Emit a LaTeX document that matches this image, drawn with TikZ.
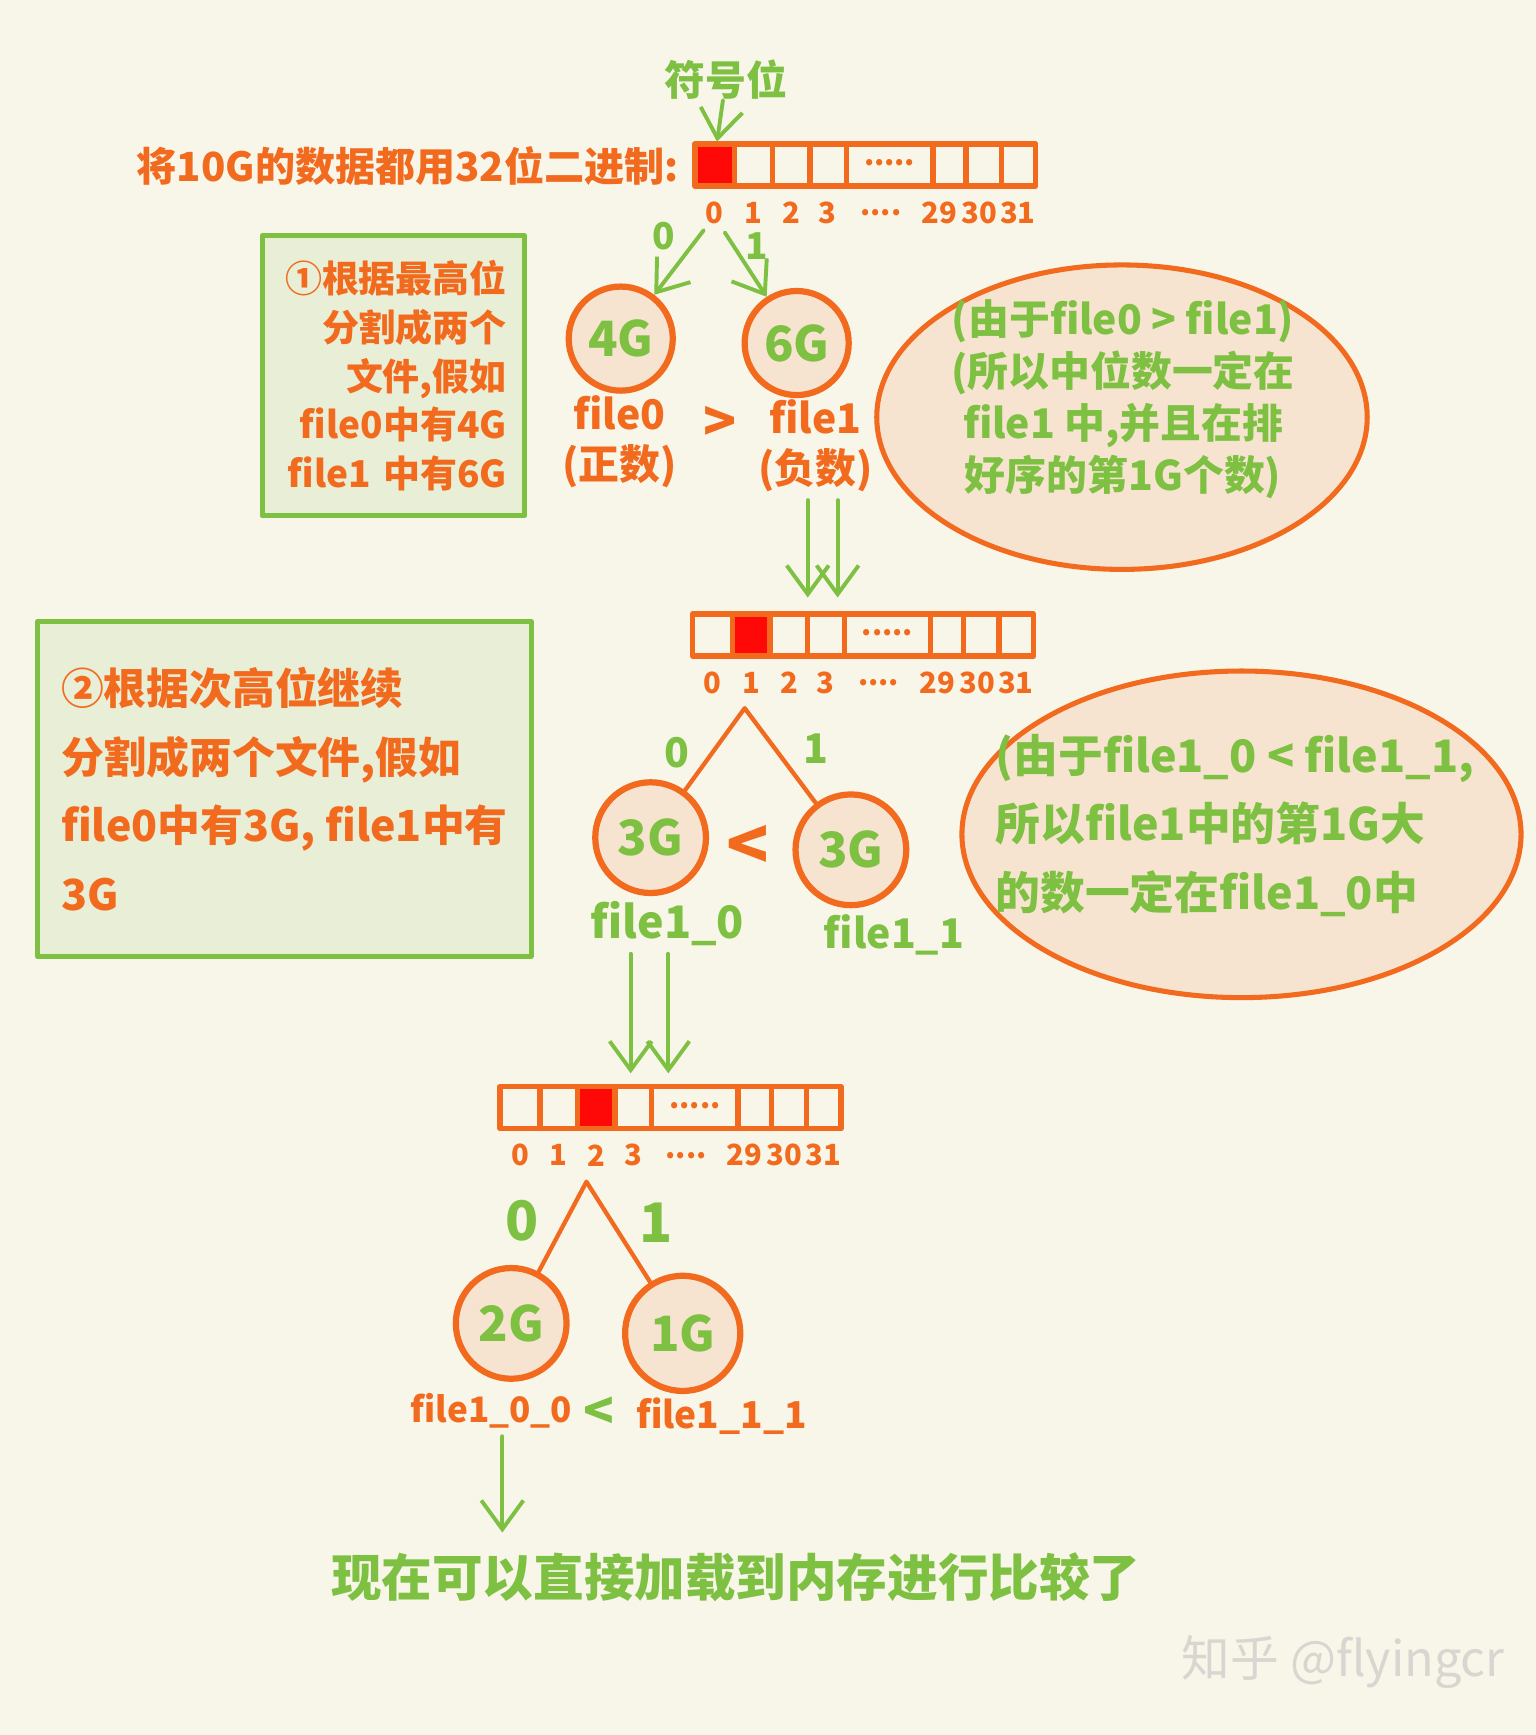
\documentclass[tikz,border=0pt]{standalone}
\usepackage{fontspec}
\newfontfamily\cjk{Noto Sans CJK SC}
\usetikzlibrary{arrows.meta,shapes.geometric}

\definecolor{paper}{HTML}{F8F5E9}
\definecolor{pen}{HTML}{F26A1E}
\definecolor{leaf}{HTML}{7DC042}
\definecolor{signbit}{HTML}{FF0808}
\definecolor{bubble}{HTML}{F7E4D0}
\definecolor{boxfill}{HTML}{E8EFD6}
\definecolor{mark}{HTML}{D8D6D0}

\begin{document}
\begin{tikzpicture}[x=0.01cm,y=-0.01cm,line join=round,
  >={Straight Barb[length=2.6mm,width=3.8mm]},
  fs/.style 2 args={font=\cjk\bfseries\fontsize{#1pt}{#2pt}\selectfont},
  pentxt/.style={text=pen,inner sep=0pt,align=center},
  leaftxt/.style={text=leaf,inner sep=0pt,align=center},
  bitline/.style={draw=pen,line width=1.4pt},
  bitnum/.style={pentxt,fs={7.5}{10}},
  filenode/.style={circle,draw=pen,line width=1.6pt,fill=bubble,inner sep=0pt,text=leaf,fs={12.5}{15}},
  branch/.style={draw=pen,line width=1.1pt,line cap=round},
  flow/.style={draw=leaf,line width=1pt,line cap=round,->},
  notebox/.style={rectangle,draw=leaf,line width=1.3pt,fill=boxfill,text=pen},
  thought/.style={ellipse,draw=pen,line width=1.3pt,fill=bubble,inner sep=0pt}]
  % Background
  \fill[paper] (0,0) rectangle (1388,1568);
%%
  % Node: signlbl
  \node[leaftxt,fs={10.5}{12}] (signlbl) at (656,72) {符号位};
  % Node: title
  \node[pentxt,fs={10.3}{13},anchor=east] (title) at (614,150) {将10G的数据都用32位二进制:};
  % Node: bitsA (bit 0 marked)
\begin{scope}[shift={(628,130)}]
  \fill[signbit] (0,0) rectangle (36,38);
  \draw[bitline] (0,0) rectangle (308,38)
    (36,0) -- (36,38) (70,0) -- (70,38) (104,0) -- (104,38) (137,0) -- (137,38)
    (215,0) -- (215,38) (245,0) -- (245,38) (277,0) -- (277,38);
  \node[bitnum] (bitsA-dots) at (176,17) {.....};
  \node[bitnum] (bitsA-0) at (18,62) {0};
  \node[bitnum] (bitsA-1) at (53,62) {1};
  \node[bitnum] (bitsA-2) at (87,62) {2};
  \node[bitnum] (bitsA-3) at (120,62) {3};
  \node[bitnum] (bitsA-gap) at (168,62) {....};
  \node[bitnum] (bitsA-29) at (221,62) {29};
  \node[bitnum] (bitsA-30) at (257,62) {30};
  \node[bitnum] (bitsA-31) at (292,62) {31};
  \coordinate (bitsA-in) at (20,-2);
  \coordinate (bitsA-out0) at (8,78);
  \coordinate (bitsA-out1) at (27,80);
\end{scope}
  % Edge: signlbl -> bitsA
  \draw[flow] (signlbl) -- (bitsA-in);
  % Node: fileA0, fileA1
  \node[filenode,minimum size=0.94cm] (fileA0) at (561,306) {4G};
  \node[filenode,minimum size=0.94cm] (fileA1) at (720,310) {6G};
  % Edge: bitsA -> fileA0
  \draw[flow] (bitsA-out0) -- (fileA0);
  \node[leaftxt,fs={9.5}{11}] (bitA0) at (600,213) {0};
  % Edge: bitsA -> fileA1
  \draw[flow] (bitsA-out1) -- (fileA1);
  \node[leaftxt,fs={9.5}{11}] (bitA1) at (684,222) {1};
  \node[pentxt,fs={10.5}{12.8}] (fileA0lbl) at (560,399) {file0\\(正数)};
  \node[pentxt,fs={14}{16}] (gtA) at (651,383) {>};
  \node[pentxt,fs={10.5}{12.8}] (fileA1lbl) at (737,403) {file1\\(负数)};
  % Node: stepA
  \node[notebox,minimum width=2.37cm,minimum height=2.53cm,text width=2.05cm,align=right,fs={9.5}{12.5}]
    (stepA) at (355.5,339.5) {①根据最高位\\分割成两个\\文件,假如\\file0中有4G\\file1 中有6G};
  % Node: whyA
  \node[thought,minimum width=4.43cm,minimum height=2.75cm] (whyA) at (1014,377) {};
  \node[leaftxt,fs={10.5}{13.4}] (whyAtxt) at (1015,361)
    {(由于file0 > file1)\\(所以中位数一定在\\file1 中,并且在排\\好序的第1G个数)};
%%
  % Node: bitsB (bit 1 marked)
\begin{scope}[shift={(626,555)}]
  \fill[signbit] (36,0) rectangle (70,38);
  \draw[bitline] (0,0) rectangle (308,38)
    (36,0) -- (36,38) (70,0) -- (70,38) (104,0) -- (104,38) (137,0) -- (137,38)
    (215,0) -- (215,38) (245,0) -- (245,38) (277,0) -- (277,38);
  \node[bitnum] (bitsB-dots) at (176,17) {.....};
  \node[bitnum] (bitsB-0) at (18,62) {0};
  \node[bitnum] (bitsB-1) at (53,62) {1};
  \node[bitnum] (bitsB-2) at (87,62) {2};
  \node[bitnum] (bitsB-3) at (120,62) {3};
  \node[bitnum] (bitsB-gap) at (168,62) {....};
  \node[bitnum] (bitsB-29) at (221,62) {29};
  \node[bitnum] (bitsB-30) at (257,62) {30};
  \node[bitnum] (bitsB-31) at (292,62) {31};
  \coordinate (bitsB-inl) at (104,-15);
  \coordinate (bitsB-inr) at (131,-15);
  \coordinate (apexB) at (47,85);
\end{scope}
  % Edge: fileA1 -> bitsB
  \coordinate (dropA-l) at (730,452);
  \coordinate (dropA-r) at (757,452);
  \draw[flow] (dropA-l) -- (bitsB-inl);
  \draw[flow] (dropA-r) -- (bitsB-inr);
  % Node: fileB0, fileB1
  \node[filenode,minimum size=1cm] (fileB0) at (588,757) {3G};
  \node[filenode,minimum size=1cm] (fileB1) at (769,768) {3G};
  % Edge: apexB -> fileB0, fileB1
  \draw[branch] (fileB0) -- (apexB) -- (fileB1);
  \node[leaftxt,fs={10.5}{12}] (bitB0) at (612,680) {0};
  \node[leaftxt,fs={10.5}{12}] (bitB1) at (737,677) {1};
  \node[pentxt,fs={18}{20}] (ltB) at (676,766) {<};
  \node[leaftxt,fs={11.5}{14}] (fileB0lbl) at (603,835) {file1\_0};
  \node[leaftxt,fs={10.5}{14}] (fileB1lbl) at (808,845) {file1\_1};
  % Node: stepB
  \node[notebox,minimum width=4.46cm,minimum height=3.02cm,align=left,fs={11}{17.6}]
    (stepB) at (257,713) {②根据次高位继续\\分割成两个文件,假如\\file0中有3G, file1中有\\3G};
  % Node: whyB
  \node[thought,minimum width=5.05cm,minimum height=2.95cm] (whyB) at (1122,754) {};
  \node[leaftxt,align=left,fs={11.5}{17.6}] (whyBtxt) at (1116,746)
    {(由于file1\_0 < file1\_1,\\所以file1中的第1G大\\的数一定在file1\_0中};
%%
  % Node: bitsC (bit 2 marked)
\begin{scope}[shift={(452,982)}]
  \fill[signbit] (70,0) rectangle (104,38);
  \draw[bitline] (0,0) rectangle (308,38)
    (36,0) -- (36,38) (70,0) -- (70,38) (104,0) -- (104,38) (137,0) -- (137,38)
    (215,0) -- (215,38) (245,0) -- (245,38) (277,0) -- (277,38);
  \node[bitnum] (bitsC-dots) at (176,17) {.....};
  \node[bitnum] (bitsC-0) at (18,62) {0};
  \node[bitnum] (bitsC-1) at (53,62) {1};
  \node[bitnum] (bitsC-2) at (87,62) {2};
  \node[bitnum] (bitsC-3) at (120,62) {3};
  \node[bitnum] (bitsC-gap) at (168,62) {....};
  \node[bitnum] (bitsC-29) at (221,62) {29};
  \node[bitnum] (bitsC-30) at (257,62) {30};
  \node[bitnum] (bitsC-31) at (292,62) {31};
  \coordinate (bitsC-inl) at (118,-12);
  \coordinate (bitsC-inr) at (152,-12);
  \coordinate (apexC) at (78,86);
\end{scope}
  % Edge: fileB0 -> bitsC
  \coordinate (dropB-l) at (570,862);
  \coordinate (dropB-r) at (604,862);
  \draw[flow] (dropB-l) -- (bitsC-inl);
  \draw[flow] (dropB-r) -- (bitsC-inr);
  % Node: fileC0, fileC1
  \node[filenode,minimum size=1cm] (fileC0) at (462,1196) {2G};
  \node[filenode,minimum size=1.04cm] (fileC1) at (617,1205) {1G};
  % Edge: apexC -> fileC0, fileC1
  \draw[branch] (fileC0) -- (apexC) -- (fileC1);
  \node[leaftxt,fs={14}{16}] (bitC0) at (472,1103) {0};
  \node[leaftxt,fs={14}{16}] (bitC1) at (593,1105) {1};
  \node[pentxt,fs={9}{12}] (fileC0lbl) at (444,1275) {file1\_0\_0};
  \node[leaftxt,fs={13}{16}] (ltC) at (541,1277) {<};
  \node[pentxt,fs={9.5}{12}] (fileC1lbl) at (652,1280) {file1\_1\_1};
  % Node: result
  \node[leaftxt,fs={13}{15}] (result) at (665,1425) {现在可以直接加载到内存进行比较了};
  % Edge: fileC0lbl -> result
  \coordinate (loadC-top) at (454,1298);
  \coordinate (loadC-end) at (454,1385);
  \draw[flow] (loadC-top) -- (loadC-end);
  % Node: credit
  \node[text=mark,inner sep=0pt,font=\cjk\fontsize{12.5pt}{14pt}\selectfont] (credit) at (1214,1502) {知乎 @flyingcr};
%
\end{tikzpicture}
\end{document}
